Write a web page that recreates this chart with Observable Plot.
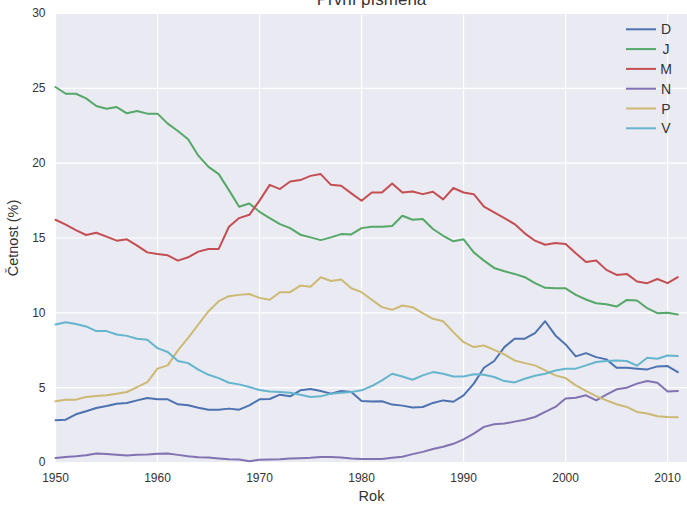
<!DOCTYPE html>
<html>
<head>
<meta charset="utf-8">
<script src="https://cdn.jsdelivr.net/npm/d3@7"></script>
<script src="https://cdn.jsdelivr.net/npm/@observablehq/plot@0.6"></script>
<style>
  html, body { margin: 0; padding: 0; background: #fff; }
  #chart svg { display: block; font-family: "Liberation Sans", Arial, sans-serif; }
</style>
</head>
<body>
<div id="chart"></div>
<script>
const title = "První písmena";
const xLabel = "Rok";
const yLabel = "Četnost (%)";
const years = d3.range(1950, 2012);
const seriesNames = ["D", "J", "M", "N", "P", "V"];
const seriesColors = ["#4C72B0", "#55A868", "#C44E52", "#8172B2", "#CCB974", "#64B5CD"];
const xTicks = [1950, 1960, 1970, 1980, 1990, 2000, 2010];
const yTicks = [0, 5, 10, 15, 20, 25, 30];

const valuesD = [2.82, 2.86, 3.22, 3.42, 3.64, 3.77, 3.93, 3.97, 4.15, 4.31,
  4.22, 4.22, 3.89, 3.82, 3.66, 3.53, 3.53, 3.60, 3.53, 3.82,
  4.22, 4.24, 4.53, 4.42, 4.82, 4.91, 4.78, 4.60, 4.78, 4.71,
  4.11, 4.07, 4.09, 3.87, 3.80, 3.67, 3.71, 3.98, 4.15, 4.06,
  4.49, 5.27, 6.33, 6.78, 7.71, 8.27, 8.27, 8.64, 9.44, 8.49,
  7.89, 7.09, 7.31, 7.04, 6.89, 6.33, 6.33, 6.27, 6.22, 6.42,
  6.44, 6.04];
const valuesJ = [25.09, 24.64, 24.64, 24.33, 23.82, 23.64, 23.75, 23.33, 23.49, 23.31,
  23.31, 22.64, 22.15, 21.60, 20.50, 19.75, 19.27, 18.20, 17.09, 17.31,
  16.75, 16.33, 15.93, 15.66, 15.22, 15.04, 14.86, 15.04, 15.26, 15.24,
  15.66, 15.75, 15.75, 15.80, 16.49, 16.22, 16.27, 15.60, 15.15, 14.78,
  14.91, 14.04, 13.49, 13.00, 12.78, 12.60, 12.38, 11.98, 11.67, 11.64,
  11.64, 11.20, 10.89, 10.64, 10.58, 10.42, 10.86, 10.82, 10.31, 9.98,
  10.00, 9.89];
const valuesM = [16.22, 15.89, 15.53, 15.20, 15.35, 15.09, 14.82, 14.91, 14.49, 14.04,
  13.93, 13.84, 13.49, 13.71, 14.09, 14.27, 14.27, 15.75, 16.33, 16.55,
  17.50, 18.55, 18.27, 18.78, 18.87, 19.15, 19.27, 18.55, 18.49, 17.98,
  17.49, 18.04, 18.04, 18.64, 18.04, 18.11, 17.93, 18.09, 17.58, 18.34,
  18.04, 17.93, 17.09, 16.71, 16.33, 15.93, 15.31, 14.82, 14.55, 14.66,
  14.60, 13.98, 13.40, 13.49, 12.87, 12.53, 12.60, 12.09, 11.98, 12.26,
  11.98, 12.38];
const valuesN = [0.30, 0.37, 0.42, 0.49, 0.60, 0.56, 0.51, 0.47, 0.51, 0.53,
  0.58, 0.60, 0.51, 0.42, 0.35, 0.33, 0.27, 0.22, 0.20, 0.09,
  0.18, 0.20, 0.22, 0.27, 0.29, 0.31, 0.36, 0.36, 0.33, 0.27,
  0.24, 0.24, 0.24, 0.31, 0.38, 0.56, 0.71, 0.90, 1.05, 1.25,
  1.55, 1.93, 2.38, 2.55, 2.60, 2.73, 2.86, 3.04, 3.38, 3.71,
  4.27, 4.33, 4.49, 4.15, 4.53, 4.89, 5.00, 5.27, 5.44, 5.33,
  4.75, 4.78];
const valuesP = [4.09, 4.20, 4.20, 4.38, 4.44, 4.49, 4.60, 4.71, 5.04, 5.37,
  6.27, 6.49, 7.49, 8.33, 9.22, 10.11, 10.78, 11.11, 11.20, 11.26,
  11.00, 10.87, 11.38, 11.38, 11.82, 11.75, 12.38, 12.13, 12.22, 11.64,
  11.38, 10.87, 10.38, 10.20, 10.49, 10.38, 9.98, 9.60, 9.44, 8.71,
  8.04, 7.71, 7.82, 7.53, 7.22, 6.82, 6.64, 6.49, 6.15, 5.82,
  5.64, 5.15, 4.78, 4.44, 4.15, 3.89, 3.71, 3.38, 3.27, 3.09,
  3.04, 3.02];
const valuesV = [9.22, 9.37, 9.26, 9.09, 8.78, 8.78, 8.55, 8.46, 8.27, 8.20,
  7.64, 7.38, 6.78, 6.64, 6.20, 5.86, 5.64, 5.33, 5.22, 5.04,
  4.84, 4.75, 4.71, 4.66, 4.53, 4.38, 4.42, 4.60, 4.66, 4.71,
  4.82, 5.11, 5.49, 5.93, 5.75, 5.53, 5.82, 6.04, 5.93, 5.75,
  5.75, 5.89, 5.86, 5.71, 5.44, 5.35, 5.60, 5.80, 5.93, 6.15,
  6.27, 6.27, 6.49, 6.71, 6.78, 6.82, 6.78, 6.47, 7.00, 6.93,
  7.15, 7.11];

const seriesValues = [valuesD, valuesJ, valuesM, valuesN, valuesP, valuesV];
const data = seriesNames.flatMap((name, i) =>
  years.map((year, j) => ({series: name, year, value: seriesValues[i][j]})));

const textColor = "#333333";

function legend(index, scales, values, dims) {
  const g = d3.create("svg:g")
    .attr("font-family", "Liberation Sans, Arial, sans-serif")
    .attr("font-size", 14)
    .attr("fill", textColor);
  const x0 = dims.width - 61, x1 = dims.width - 31, xt = dims.width - 21;
  seriesNames.forEach((name, i) => {
    const y = dims.marginTop + 16.3 + i * 19.8;
    g.append("line")
      .attr("x1", x0).attr("x2", x1).attr("y1", y).attr("y2", y)
      .attr("stroke", scales.color(name)).attr("stroke-width", 2);
    g.append("text")
      .attr("x", xt).attr("y", y).attr("dy", "0.36em")
      .text(name);
  });
  return g.node();
}

const chart = Plot.plot({
  width: 687,
  height: 508,
  marginTop: 13,
  marginBottom: 46,
  marginLeft: 55,
  marginRight: 0,
  style: {fontFamily: "Liberation Sans, Arial, sans-serif", fontSize: "12px", color: textColor, background: "#ffffff"},
  x: {domain: [1950, 2011.95]},
  y: {domain: [0, 30]},
  color: {domain: seriesNames, range: seriesColors},
  marks: [
    Plot.frame({fill: "#EAEAF2", stroke: null}),
    Plot.gridX(xTicks, {stroke: "#ffffff", strokeOpacity: 1, strokeWidth: 1.2}),
    Plot.gridY(yTicks, {stroke: "#ffffff", strokeOpacity: 1, strokeWidth: 1.2}),
    Plot.axisX(xTicks, {tickSize: 0, tickPadding: 11, tickFormat: d => String(d), label: null, fontSize: 12}),
    Plot.axisY(yTicks, {tickSize: 0, tickPadding: 10, label: null, fontSize: 12}),
    Plot.lineY(data, {x: "year", y: "value", stroke: "series", z: "series", strokeWidth: 2}),
    Plot.text([xLabel], {text: d => d, frameAnchor: "bottom", dy: 38, fontSize: 14.5, fill: textColor}),
    Plot.text([yLabel], {text: d => d, frameAnchor: "left", textAnchor: "middle", rotate: -90, dx: -42, fontSize: 14.5, fill: textColor}),
    Plot.text([title], {text: d => d, frameAnchor: "top", lineAnchor: "bottom", dy: -9, fontSize: 17, fill: textColor}),
    legend
  ]
});
document.getElementById("chart").appendChild(chart);
</script>
</body>
</html>
